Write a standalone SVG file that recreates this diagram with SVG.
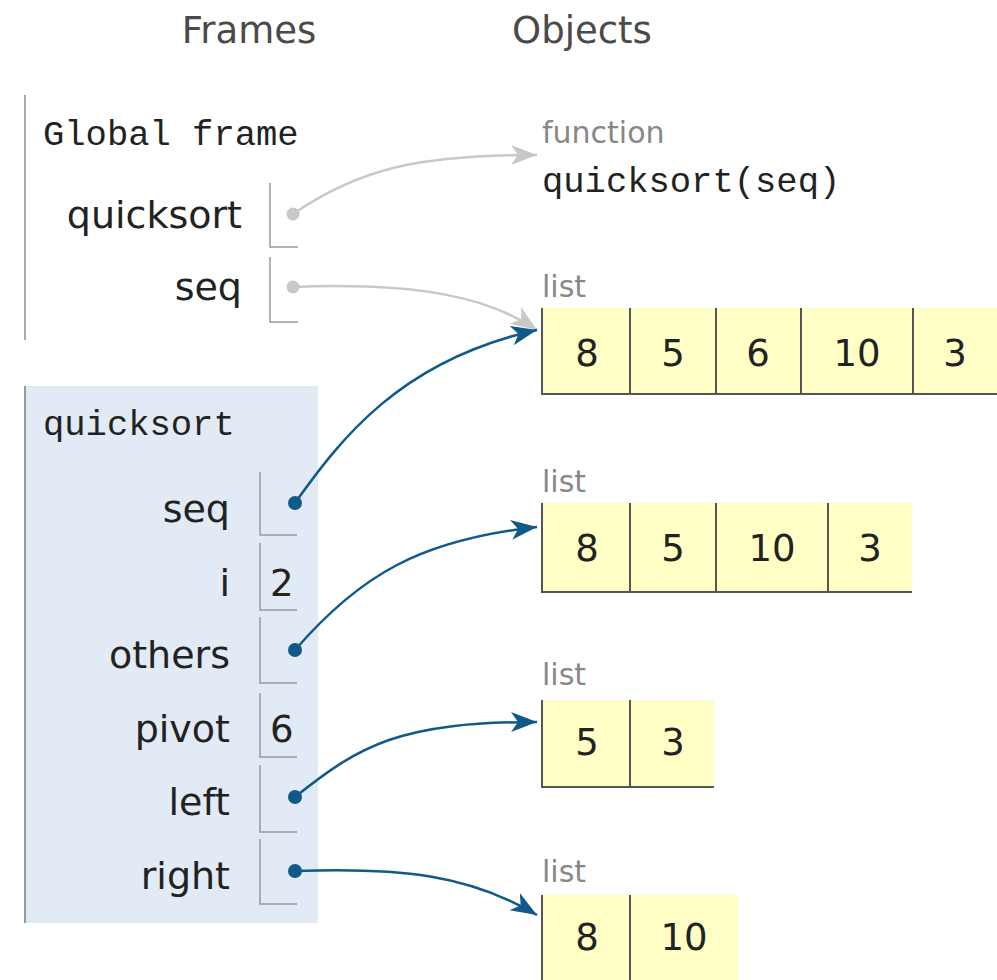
<svg xmlns="http://www.w3.org/2000/svg" width="997" height="980" viewBox="0 0 997 980">
<style>
.hdr{font-family:"DejaVu Sans","Liberation Sans",sans-serif;font-size:37px;fill:#4a4a4a}
.mono{font-family:"Liberation Mono","DejaVu Sans Mono",monospace;font-size:35.5px;fill:#222}
.lbl{font-family:"DejaVu Sans","Liberation Sans",sans-serif;font-size:38px;fill:#222;text-anchor:end}
.val{font-family:"DejaVu Sans","Liberation Sans",sans-serif;font-size:37px;fill:#222}
.num{font-family:"DejaVu Sans","Liberation Sans",sans-serif;font-size:37px;fill:#222;text-anchor:middle}
.typ{font-family:"DejaVu Sans","Liberation Sans",sans-serif;font-size:30px;fill:#888}
.box{fill:none;stroke:#999;stroke-width:1.5}
.cell{fill:#ffffc6}
.ln{stroke:#555;stroke-width:2;fill:none}
.cg{fill:none;stroke:#c8c8c8;stroke-width:2.5}
.cb{fill:none;stroke:#0f5a88;stroke-width:2.5}
</style>
<defs>
<marker id="ag" markerUnits="userSpaceOnUse" markerWidth="30" markerHeight="24" refX="26" refY="10" orient="auto">
<path d="M0,0 L26,10 L0,20 L7,10 z" fill="#c8c8c8"/>
</marker>
<marker id="ab" markerUnits="userSpaceOnUse" markerWidth="30" markerHeight="24" refX="26" refY="10" orient="auto">
<path d="M0,0 L26,10 L0,20 L7,10 z" fill="#0f5a88"/>
</marker>
</defs>
<g id="headers">
<text class="hdr" x="249" y="43" text-anchor="middle">Frames</text>
<text class="hdr" x="582" y="43" text-anchor="middle">Objects</text>
</g>
<g id="global-frame">
<line x1="25" y1="95" x2="25" y2="340" stroke="#aaa" stroke-width="2"/>
<text class="mono" x="43" y="145">Global frame</text>
<text class="lbl" x="242" y="228">quicksort</text>
<path class="box" d="M270,183 V247 H298"/>
<circle cx="293" cy="214" r="6.5" fill="#c8c8c8"/>
<text class="lbl" x="242" y="300">seq</text>
<path class="box" d="M270,257 V322 H298"/>
<circle cx="293" cy="287" r="6.5" fill="#c8c8c8"/>
</g>
<g id="quicksort-frame">
<rect x="25" y="386" width="293" height="537" fill="#e1eaf5"/>
<line x1="25" y1="386" x2="25" y2="923" stroke="#999" stroke-width="2"/>
<text class="mono" x="43" y="435">quicksort</text>
<text class="lbl" x="230" y="522">seq</text>
<path class="box" d="M260,472 V535 H297"/>
<circle cx="295" cy="503" r="7" fill="#0f5a88"/>
<text class="lbl" x="230" y="596">i</text>
<path class="box" d="M260,543 V610 H297"/>
<text class="val" x="270" y="596">2</text>
<text class="lbl" x="230" y="668">others</text>
<path class="box" d="M260,617 V683 H297"/>
<circle cx="295" cy="650" r="7" fill="#0f5a88"/>
<text class="lbl" x="230" y="742">pivot</text>
<path class="box" d="M260,693 V757 H297"/>
<text class="val" x="270" y="742">6</text>
<text class="lbl" x="230" y="815">left</text>
<path class="box" d="M260,765 V832 H297"/>
<circle cx="295" cy="797" r="7" fill="#0f5a88"/>
<text class="lbl" x="230" y="889">right</text>
<path class="box" d="M260,839 V904 H297"/>
<circle cx="295" cy="871" r="7" fill="#0f5a88"/>
</g>
<g id="function-quicksort">
<text class="typ" x="542" y="143">function</text>
<text class="mono" x="542" y="192">quicksort(seq)</text>
</g>
<g id="list1">
<text class="typ" x="542" y="297">list</text>
<rect class="cell" x="542" y="308" width="455" height="86"/>
<path class="ln" d="M542,308 V394 H997 M630,308 V394 M716,308 V394 M801,308 V394 M913,308 V394"/>
<text class="num" x="587" y="366">8</text>
<text class="num" x="673" y="366">5</text>
<text class="num" x="758" y="366">6</text>
<text class="num" x="857" y="366">10</text>
<text class="num" x="955" y="366">3</text>
</g>
<g id="list2">
<text class="typ" x="542" y="492">list</text>
<rect class="cell" x="542" y="503" width="370" height="89"/>
<path class="ln" d="M542,503 V592 H912 M630,503 V592 M716,503 V592 M828,503 V592"/>
<text class="num" x="587" y="561">8</text>
<text class="num" x="673" y="561">5</text>
<text class="num" x="772" y="561">10</text>
<text class="num" x="870" y="561">3</text>
</g>
<g id="list3">
<text class="typ" x="542" y="685">list</text>
<rect class="cell" x="542" y="700" width="172" height="87"/>
<path class="ln" d="M542,700 V787 H714 M630,700 V787"/>
<text class="num" x="587" y="755">5</text>
<text class="num" x="673" y="755">3</text>
</g>
<g id="list4">
<text class="typ" x="542" y="882">list</text>
<rect class="cell" x="542" y="895" width="196" height="90"/>
<path class="ln" d="M542,895 V985 M630,895 V985"/>
<text class="num" x="587" y="950">8</text>
<text class="num" x="684" y="950">10</text>
</g>
<g id="connectors">
<path class="cg" d="M293,214 C360,168 420,155 537,155" marker-end="url(#ag)"/>
<path class="cg" d="M293,287 C420,282 490,298 537,330" marker-end="url(#ag)"/>
<path class="cb" d="M295,503 C340,440 400,360 537,330" marker-end="url(#ab)"/>
<path class="cb" d="M295,650 C360,575 420,540 537,527" marker-end="url(#ab)"/>
<path class="cb" d="M295,797 C360,745 400,722 537,722" marker-end="url(#ab)"/>
<path class="cb" d="M295,871 C400,867 470,875 537,915" marker-end="url(#ab)"/>
</g>
</svg>
